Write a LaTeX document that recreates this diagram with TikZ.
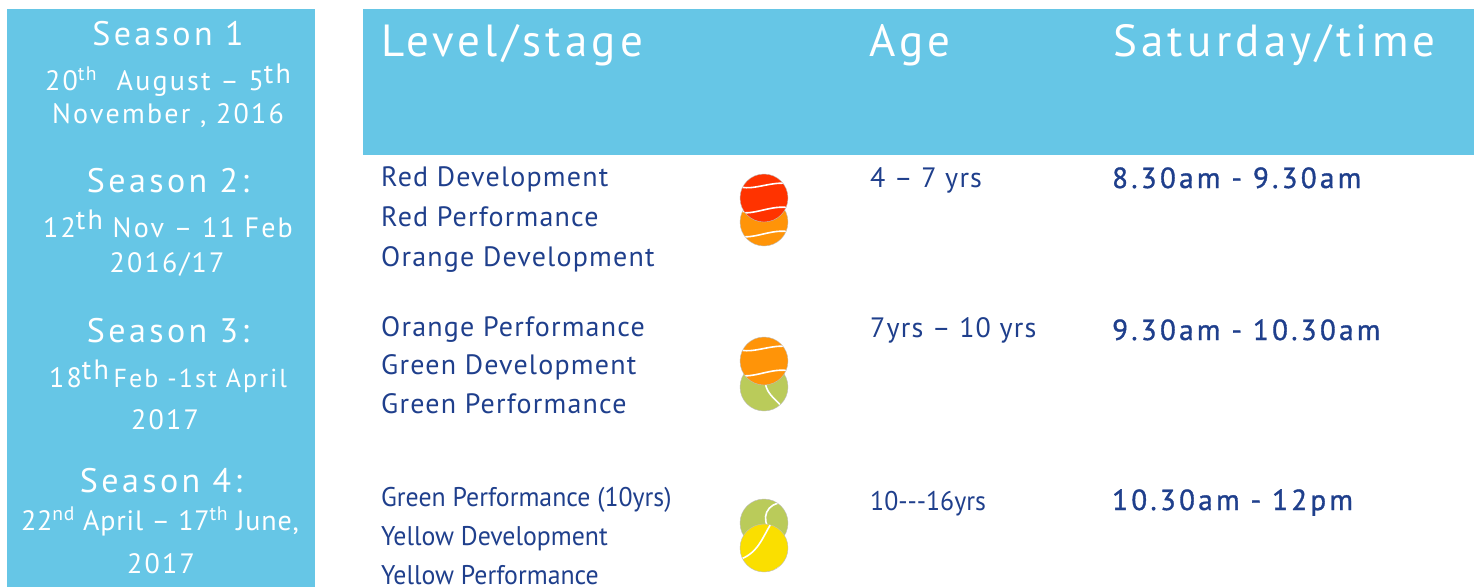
\documentclass[tikz,border=0pt]{standalone}
\usepackage{fontspec}
\setmainfont{PT Sans}
\newfontfamily\hdrfont[LetterSpace=9.5]{PT Sans}
\newfontfamily\seasfont[LetterSpace=10]{PT Sans}
\newfontfamily\datefont[LetterSpace=8]{PT Sans}
\newfontfamily\bodyfont[LetterSpace=4.3]{PT Sans}
\newfontfamily\dfourfont[LetterSpace=3]{PT Sans}
\newfontfamily\timefont[LetterSpace=11.5,FakeBold=1.2]{PT Sans}
\definecolor{panel}{HTML}{66C6E6}
\definecolor{navy}{HTML}{1F3F8C}
\definecolor{bred}{HTML}{FF3300}
\definecolor{borange}{HTML}{FF9408}
\definecolor{bgreen}{HTML}{BACB5A}
\definecolor{byellow}{HTML}{FADF00}
\tikzset{
  seasonhead/.style={text=white, anchor=base, inner sep=0pt, font=\fontsize{34}{36}\seasfont},
  seasondate/.style={text=white, anchor=base, inner sep=0pt, font=\fontsize{28}{30}\datefont},
  hdr/.style={text=white, anchor=base west, inner sep=0pt, font=\fontsize{45}{48}\hdrfont},
  lvl/.style={text=navy, anchor=base west, inner sep=0pt, font=\fontsize{28}{32}\bodyfont},
  lvlnarrow/.style={text=navy, anchor=base west, inner sep=0pt, font=\fontsize{27}{32}\selectfont, xscale=0.955},
  timetxt/.style={text=navy, anchor=base west, inner sep=0pt, font=\fontsize{29}{32}\timefont},
  seam/.style={white, line width=1.6pt},
  ballc/.style={draw=black!25, line width=0.4pt}
}
\newcommand{\tball}[4]{%
  \begin{scope}[shift={(#1,#2)}]
    \fill[#3] (0,0) circle (24);
    \begin{scope}
      \clip (0,0) circle (24);
      #4
    \end{scope}
    \draw[ballc] (0,0) circle (24);
  \end{scope}}
\newcommand{\hseams}{%
  \draw[seam] (-26,-12) .. controls (-12,-6) and (8,-18) .. (26,-14);
  \draw[seam] (-26,14) .. controls (-10,18) and (8,6) .. (26,10);}
\newcommand{\gseam}{%
  \draw[seam] (26,-20) .. controls (8,-24) and (-4,-10) .. (4,4) .. controls (10,14) and (18,16) .. (20,26);}
\newcommand{\yseams}{%
  \draw[seam] (8,-26) .. controls (-2,-10) and (-6,6) .. (-26,12);
  \draw[seam] (28,8) .. controls (20,18) and (10,22) .. (2,28);}
\begin{document}
\begin{tikzpicture}[x=1pt,y=-1pt]
\useasboundingbox (0,0) rectangle (1474,587);
\fill[panel] (7,9) rectangle (315,587);
\fill[panel] (363,9) rectangle (1474,155);

% season panel
\node[seasonhead] (s1) at (168,45) {Season 1};
\node[seasondate] (s1a) at (168,90) {20\textsuperscript{th}\ \ August – 5\raisebox{0.22em}{th}};
\node[seasondate] (s1b) at (168,123) {November , 2016};
\node[seasonhead] (s2) at (168,192) {Season 2:};
\node[seasondate] (s2a) at (168,237) {12\raisebox{0.28em}{th} Nov – 11 Feb};
\node[seasondate] (s2b) at (167,272) {2016/17};
\node[seasonhead] (s3) at (168,342) {Season 3:};
\node[seasondate] (s3a) at (168,387) {18\raisebox{0.28em}{th}\,{\fontsize{26}{28}\selectfont Feb -1st April}};
\node[seasondate] (s3b) at (165,429) {2017};
\node[seasonhead] (s4) at (161,492) {Season 4:};
\node[seasondate] (s4a) at (160,530) {\fontsize{28}{30}\dfourfont 22\textsuperscript{nd} April – 17\textsuperscript{th} June,};
\node[seasondate] (s4b) at (161,573) {2017};

% header
\node[hdr] (h1) at (381,56) {Level/stage};
\node[hdr] (h2) at (869,56) {Age};
\node[hdr] (h3) at (1113,56) {Saturday/time};

% row 1
\node[lvl] (l1) at (381,186) {Red Development};
\node[lvl] (l2) at (381,226) {Red Performance};
\node[lvl] (l3) at (381,266) {Orange Development};
\node[lvl] (a1) at (870,187) {4 – 7 yrs};
\node[timetxt] (t1) at (1112,188) {8.30am - 9.30am};

% row 2
\node[lvl] (l4) at (381,336) {Orange Performance};
\node[lvl] (l5) at (381,374) {Green Development};
\node[lvl] (l6) at (381,413) {Green Performance};
\node[lvl] (a2) at (870,337) {7yrs – 10 yrs};
\node[timetxt] (t2) at (1112,340) {9.30am - 10.30am};

% row 3
\node[lvlnarrow] (l7) at (381,506) {Green Performance (10yrs)};
\node[lvlnarrow] (l8) at (381,545) {Yellow Development};
\node[lvlnarrow] (l9) at (381,584) {Yellow Performance};
\node[lvlnarrow] (a3) at (870,510) {10-{}-{}-16yrs};
\node[timetxt] (t3) at (1112,510) {10.30am - 12pm};

% balls
\tball{764}{222}{borange}{\hseams}
\tball{764}{198}{bred}{\hseams}
\tball{764}{387}{bgreen}{\gseam}
\tball{764}{361}{borange}{\hseams}
\tball{764}{523}{bgreen}{\gseam}
\tball{764}{548}{byellow}{\yseams}
\end{tikzpicture}
\end{document}
